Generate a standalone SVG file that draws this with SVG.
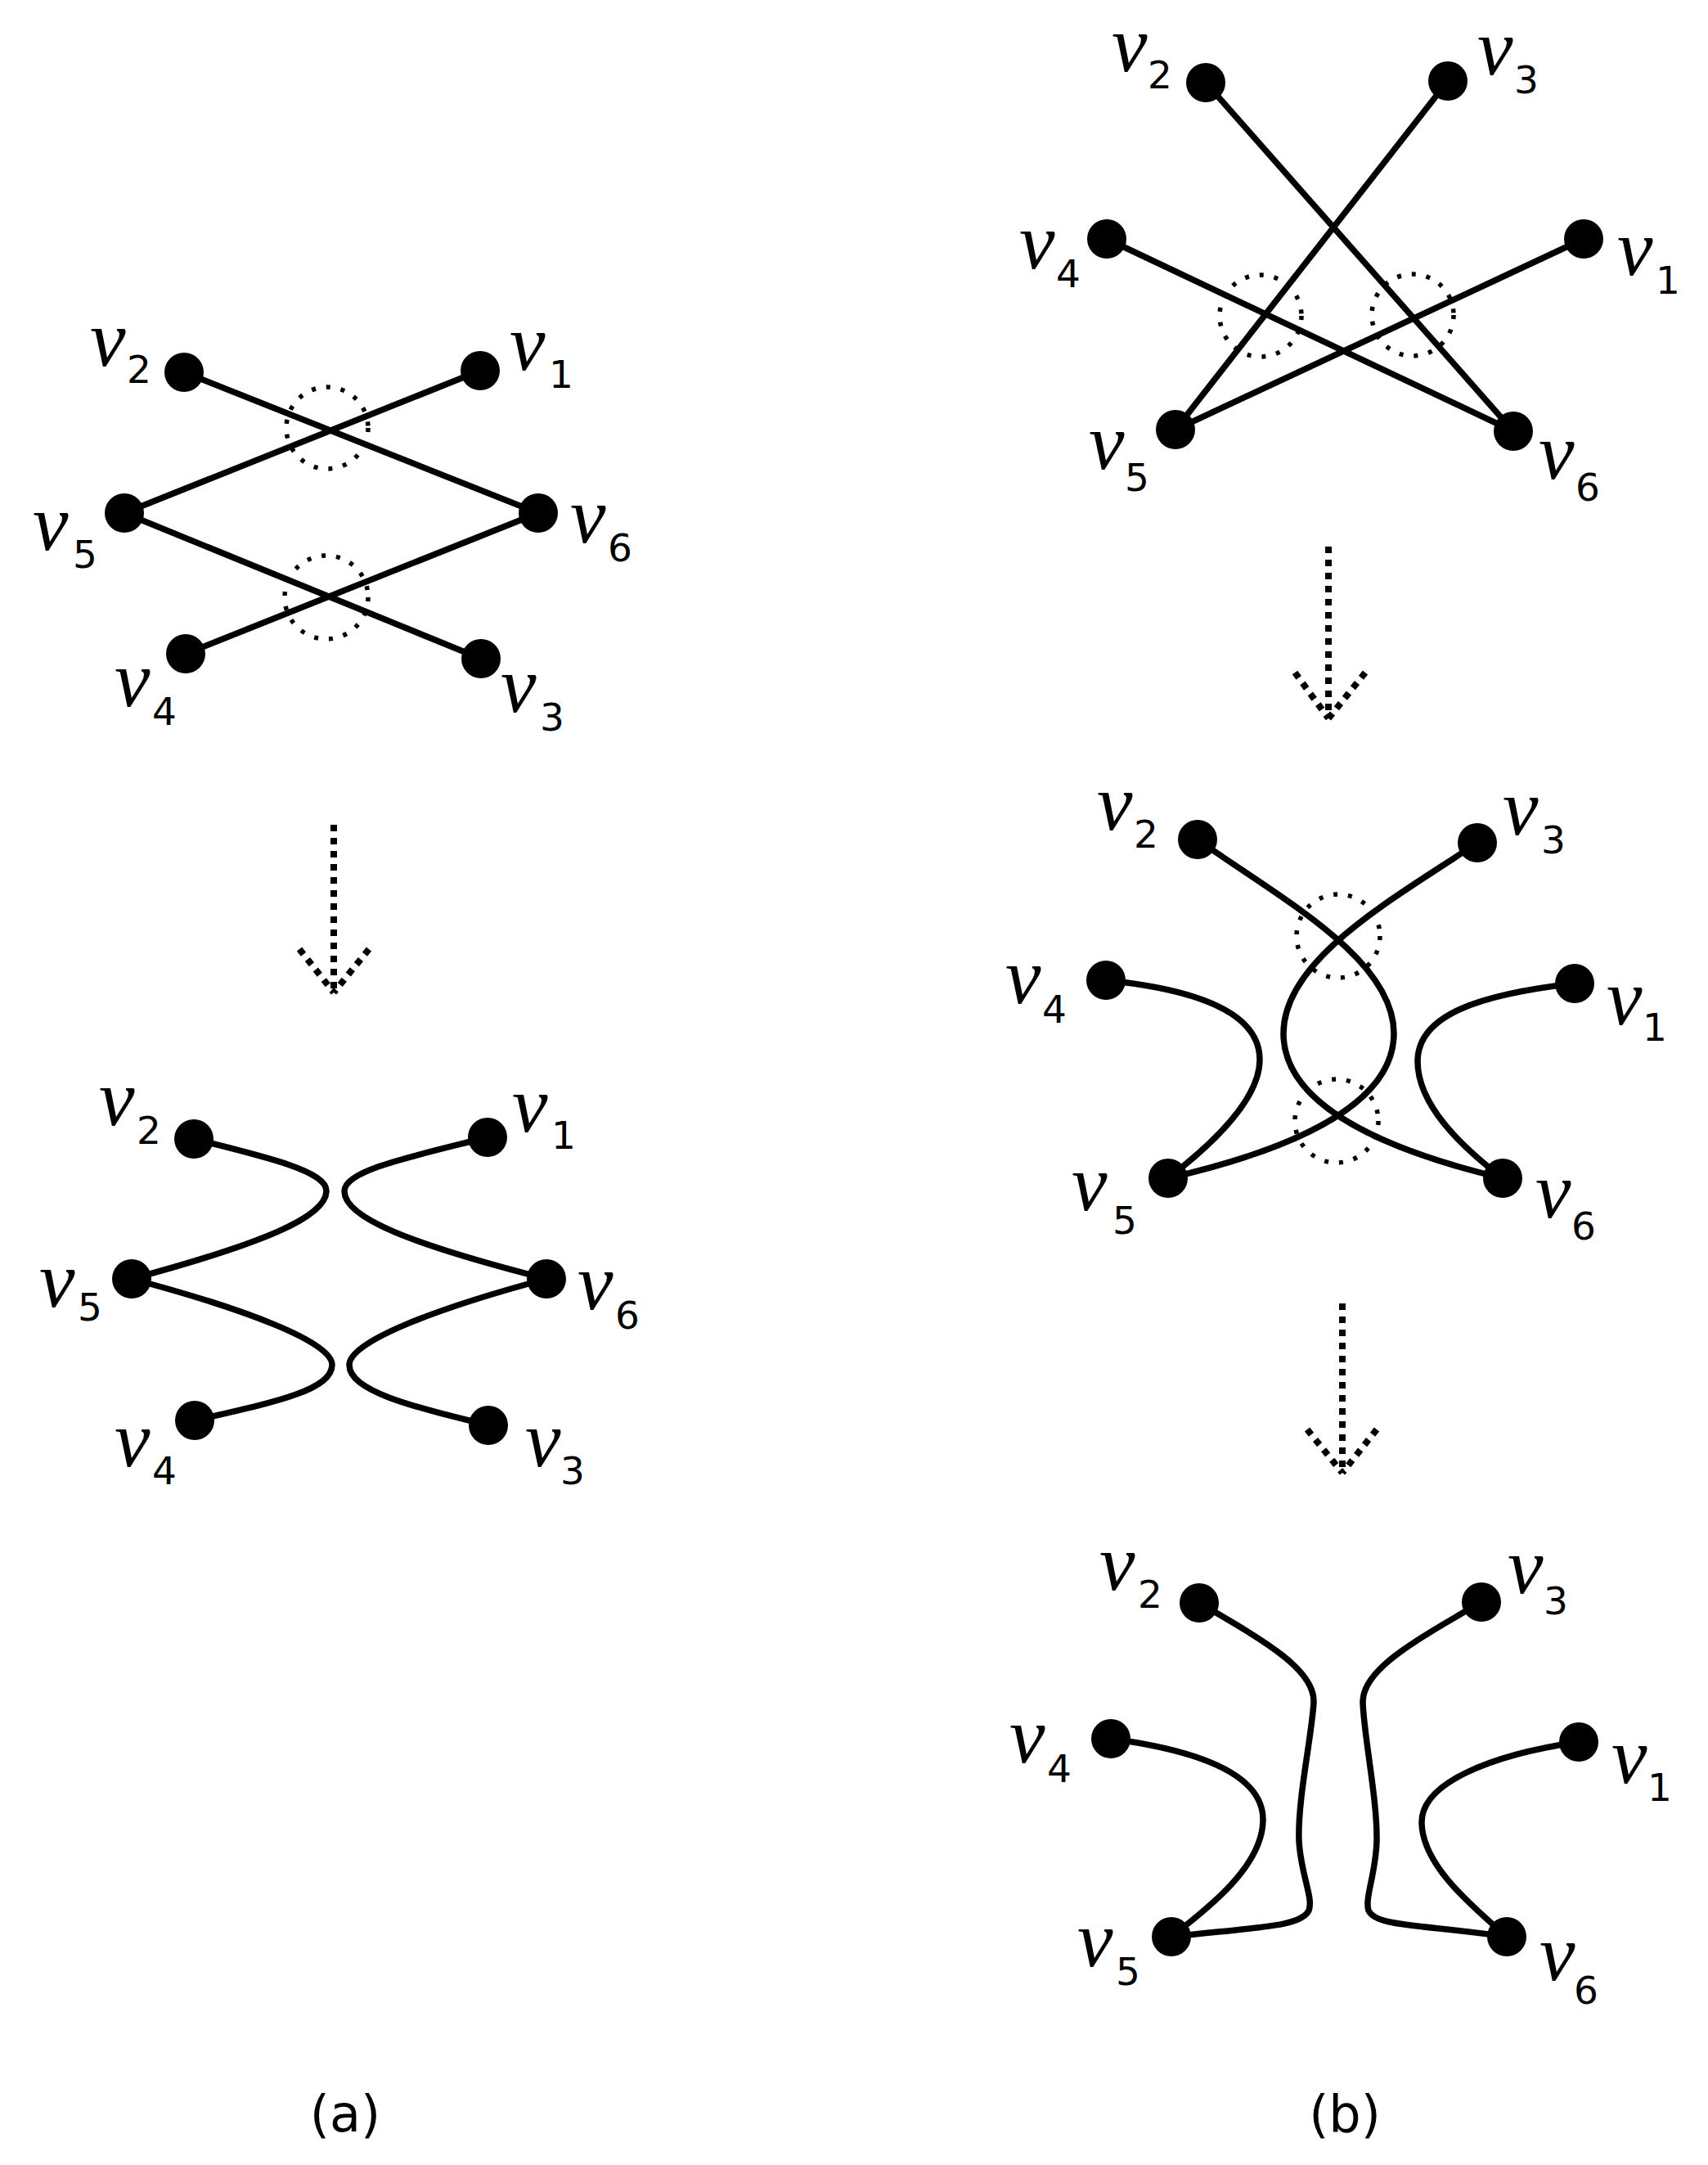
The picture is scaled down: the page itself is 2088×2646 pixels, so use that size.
<svg xmlns="http://www.w3.org/2000/svg" width="2088" height="2646" viewBox="0 0 2088 2646">
<style>
.bg{fill:#fff}
.dot{fill:#000}
.e{fill:none;stroke:#000;stroke-width:7.5;stroke-linecap:round}
.ring{fill:none;stroke:#000;stroke-width:5.5;stroke-dasharray:5 13}
.arr{fill:none;stroke:#000;stroke-width:8;stroke-dasharray:8 8}
.v{font-family:"Liberation Serif",serif;font-style:italic;font-size:98px;fill:#000}
.d{font-family:"DejaVu Sans",sans-serif;font-size:47px;fill:#000}
.cap{font-family:"DejaVu Sans",sans-serif;font-size:62px;fill:#000;text-anchor:middle}
</style>
<rect class="bg" x="0" y="0" width="2088" height="2646"/>

<!-- connectors -->
<g id="connectors">
  <!-- (a) top -->
  <line class="e" x1="225" y1="455" x2="658" y2="627"/>
  <line class="e" x1="587" y1="453" x2="152" y2="627"/>
  <line class="e" x1="152" y1="627" x2="588" y2="805"/>
  <line class="e" x1="658" y1="627" x2="227" y2="799"/>
  <!-- (a) bottom -->
  <path class="e" d="M237,1392 C330,1415 400,1432 399,1456 C398,1488 320,1520 161,1563"/>
  <path class="e" d="M596,1390 C505,1413 421,1430 421,1456 C421,1488 500,1520 668,1563"/>
  <path class="e" d="M161,1563 C300,1600 406,1640 406,1668 C406,1700 330,1715 238,1736"/>
  <path class="e" d="M668,1563 C530,1600 427,1640 427,1668 C427,1700 500,1718 597,1742"/>
  <!-- (b) top -->
  <line class="e" x1="1474" y1="101" x2="1850" y2="527"/>
  <line class="e" x1="1770" y1="99" x2="1437" y2="525"/>
  <line class="e" x1="1353" y1="292" x2="1850" y2="527"/>
  <line class="e" x1="1936" y1="292" x2="1437" y2="525"/>
  <!-- (b) middle -->
  <path class="e" d="M1464,1026 C1560,1095 1704,1170 1704,1263 C1704,1350 1580,1405 1428,1440"/>
  <path class="e" d="M1806,1030 C1710,1095 1569,1170 1569,1263 C1569,1350 1690,1405 1837,1440"/>
  <path class="e" d="M1352,1198 C1470,1210 1540,1240 1540,1295 C1540,1345 1480,1400 1428,1440"/>
  <path class="e" d="M1925,1202 C1810,1215 1733,1240 1733,1297 C1733,1350 1785,1400 1837,1440"/>
  <!-- (b) bottom -->
  <path class="e" d="M1466,1959 C1545,2005 1607,2040 1606,2080 C1604,2120 1586,2200 1588,2250 C1590,2290 1606,2320 1600,2335 C1590,2355 1540,2355 1432,2367"/>
  <path class="e" d="M1811,1958 C1730,2005 1666,2040 1666,2080 C1667,2120 1684,2200 1683,2250 C1682,2290 1668,2320 1673,2335 C1682,2355 1740,2352 1842,2367"/>
  <path class="e" d="M1358,2125 C1470,2140 1545,2170 1544,2225 C1543,2280 1480,2330 1432,2367"/>
  <path class="e" d="M1930,2129 C1820,2145 1737,2180 1738,2228 C1739,2280 1800,2330 1842,2367"/>
</g>

<!-- dotted crossing marks -->
<g id="marks">
  <circle class="ring" cx="400" cy="523" r="50"/>
  <circle class="ring" cx="399" cy="730" r="51"/>
  <circle class="ring" cx="1541" cy="386" r="50"/>
  <circle class="ring" cx="1727" cy="385" r="50"/>
  <circle class="ring" cx="1636" cy="1144" r="51"/>
  <circle class="ring" cx="1634" cy="1370" r="51"/>
</g>

<!-- transition arrows -->
<g id="arrows">
  <line class="arr" x1="408" y1="1008" x2="408" y2="1213"/>
  <line class="arr" x1="366" y1="1160" x2="408" y2="1213"/>
  <line class="arr" x1="451" y1="1160" x2="408" y2="1213"/>
  <line class="arr" x1="1624" y1="668" x2="1624" y2="878"/>
  <line class="arr" x1="1583" y1="822" x2="1624" y2="878"/>
  <line class="arr" x1="1669" y1="822" x2="1624" y2="878"/>
  <line class="arr" x1="1641" y1="1593" x2="1641" y2="1800"/>
  <line class="arr" x1="1598" y1="1747" x2="1641" y2="1800"/>
  <line class="arr" x1="1683" y1="1747" x2="1641" y2="1800"/>
</g>

<!-- (a) top nodes -->
<g id="a1-v2"><circle class="dot" cx="225" cy="455" r="24"/><text class="v" x="110" y="447">v</text><text class="d" x="155" y="468">2</text></g>
<g id="a1-v1"><circle class="dot" cx="587" cy="453" r="24"/><text class="v" x="623" y="452">v</text><text class="d" x="671" y="474">1</text></g>
<g id="a1-v5"><circle class="dot" cx="152" cy="627" r="24"/><text class="v" x="40" y="672">v</text><text class="d" x="89" y="694">5</text></g>
<g id="a1-v6"><circle class="dot" cx="658" cy="627" r="24"/><text class="v" x="697" y="663">v</text><text class="d" x="743" y="686">6</text></g>
<g id="a1-v4"><circle class="dot" cx="227" cy="799" r="24"/><text class="v" x="140" y="863">v</text><text class="d" x="186" y="886">4</text></g>
<g id="a1-v3"><circle class="dot" cx="588" cy="805" r="24"/><text class="v" x="612" y="870">v</text><text class="d" x="660" y="893">3</text></g>

<!-- (a) bottom nodes -->
<g id="a2-v2"><circle class="dot" cx="237" cy="1392" r="24"/><text class="v" x="121" y="1375">v</text><text class="d" x="167" y="1398">2</text></g>
<g id="a2-v1"><circle class="dot" cx="596" cy="1390" r="24"/><text class="v" x="626" y="1383">v</text><text class="d" x="674" y="1404">1</text></g>
<g id="a2-v5"><circle class="dot" cx="161" cy="1563" r="24"/><text class="v" x="48" y="1597">v</text><text class="d" x="95" y="1614">5</text></g>
<g id="a2-v6"><circle class="dot" cx="668" cy="1563" r="24"/><text class="v" x="706" y="1600">v</text><text class="d" x="752" y="1624">6</text></g>
<g id="a2-v4"><circle class="dot" cx="238" cy="1736" r="24"/><text class="v" x="140" y="1792">v</text><text class="d" x="186" y="1814">4</text></g>
<g id="a2-v3"><circle class="dot" cx="597" cy="1742" r="24"/><text class="v" x="642" y="1792">v</text><text class="d" x="685" y="1814">3</text></g>

<!-- (b) top nodes -->
<g id="b1-v2"><circle class="dot" cx="1474" cy="101" r="24"/><text class="v" x="1359" y="87">v</text><text class="d" x="1403" y="108">2</text></g>
<g id="b1-v3"><circle class="dot" cx="1770" cy="99" r="24"/><text class="v" x="1806" y="91">v</text><text class="d" x="1851" y="114">3</text></g>
<g id="b1-v4"><circle class="dot" cx="1353" cy="292" r="24"/><text class="v" x="1246" y="328">v</text><text class="d" x="1291" y="351">4</text></g>
<g id="b1-v1"><circle class="dot" cx="1936" cy="292" r="24"/><text class="v" x="1977" y="336">v</text><text class="d" x="2024" y="359">1</text></g>
<g id="b1-v5"><circle class="dot" cx="1437" cy="525" r="24"/><text class="v" x="1331" y="573">v</text><text class="d" x="1375" y="600">5</text></g>
<g id="b1-v6"><circle class="dot" cx="1850" cy="527" r="24"/><text class="v" x="1881" y="585">v</text><text class="d" x="1926" y="612">6</text></g>

<!-- (b) middle nodes -->
<g id="b2-v2"><circle class="dot" cx="1464" cy="1026" r="24"/><text class="v" x="1341" y="1014">v</text><text class="d" x="1386" y="1036">2</text></g>
<g id="b2-v3"><circle class="dot" cx="1806" cy="1030" r="24"/><text class="v" x="1837" y="1020">v</text><text class="d" x="1884" y="1043">3</text></g>
<g id="b2-v4"><circle class="dot" cx="1352" cy="1198" r="24"/><text class="v" x="1229" y="1226">v</text><text class="d" x="1274" y="1250">4</text></g>
<g id="b2-v1"><circle class="dot" cx="1925" cy="1202" r="24"/><text class="v" x="1964" y="1252">v</text><text class="d" x="2008" y="1272">1</text></g>
<g id="b2-v5"><circle class="dot" cx="1428" cy="1440" r="24"/><text class="v" x="1310" y="1479">v</text><text class="d" x="1360" y="1508">5</text></g>
<g id="b2-v6"><circle class="dot" cx="1837" cy="1440" r="24"/><text class="v" x="1877" y="1488">v</text><text class="d" x="1921" y="1515">6</text></g>

<!-- (b) bottom nodes -->
<g id="b3-v2"><circle class="dot" cx="1466" cy="1959" r="24"/><text class="v" x="1344" y="1943">v</text><text class="d" x="1391" y="1965">2</text></g>
<g id="b3-v3"><circle class="dot" cx="1811" cy="1958" r="24"/><text class="v" x="1843" y="1947">v</text><text class="d" x="1887" y="1973">3</text></g>
<g id="b3-v4"><circle class="dot" cx="1358" cy="2125" r="24"/><text class="v" x="1234" y="2154">v</text><text class="d" x="1280" y="2178">4</text></g>
<g id="b3-v1"><circle class="dot" cx="1930" cy="2129" r="24"/><text class="v" x="1970" y="2179">v</text><text class="d" x="2014" y="2201">1</text></g>
<g id="b3-v5"><circle class="dot" cx="1432" cy="2367" r="24"/><text class="v" x="1317" y="2403">v</text><text class="d" x="1364" y="2426">5</text></g>
<g id="b3-v6"><circle class="dot" cx="1842" cy="2367" r="24"/><text class="v" x="1882" y="2420">v</text><text class="d" x="1924" y="2449">6</text></g>

<!-- captions -->
<text class="cap" x="422" y="2605">(a)</text>
<text class="cap" x="1644" y="2605">(b)</text>
</svg>
